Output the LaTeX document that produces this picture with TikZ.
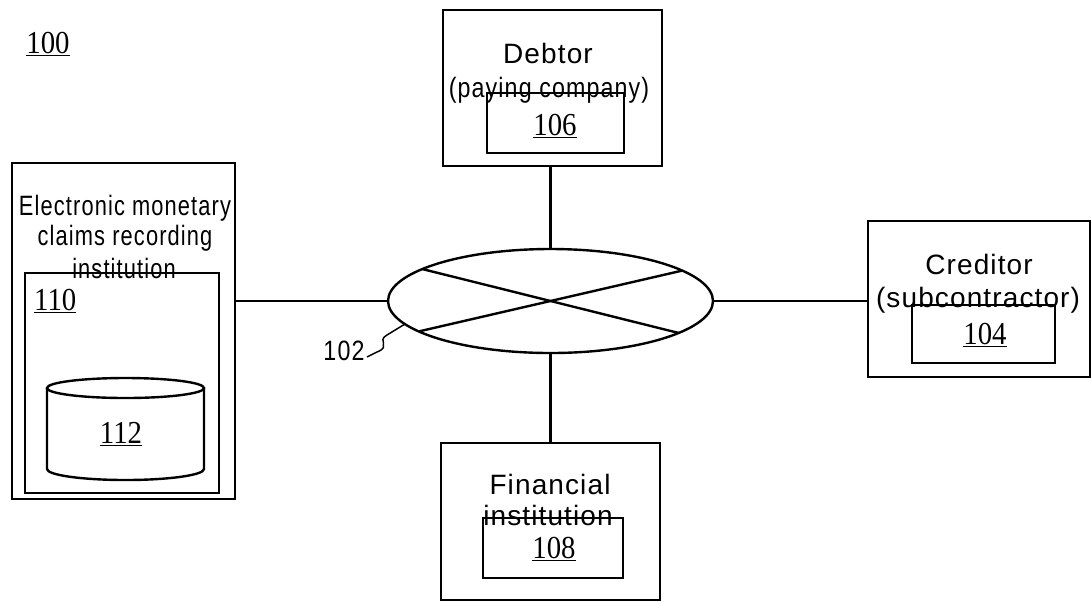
\documentclass[tikz,border=0pt]{standalone}
\usepackage{fontspec}
\usetikzlibrary{shapes.geometric}
\newfontfamily\labelsans[LetterSpace=4]{Liberation Sans}
\newfontfamily\narrowsans[LetterSpace=4,FakeStretch=0.78]{Liberation Sans}
\newfontfamily\semisans[LetterSpace=4,FakeStretch=0.83]{Liberation Sans}
\newfontfamily\refserif[FakeStretch=0.9]{Liberation Serif}
\newdimen\pxu \pxu=0.75pt
\begin{document}
\begin{tikzpicture}[x=0.75pt,y=-0.75pt,line width=1.8pt,
  box/.style n args={4}{draw,rectangle,inner sep=0pt,outer sep=0pt,anchor=north west,
    at={(#1,#2)},minimum width={(#3-#1)*\pxu},minimum height={(#4-#2)*\pxu}},
  txt/.style={inner sep=0pt,anchor=base,font=\labelsans\fontsize{21pt}{25pt}\selectfont},
  ntxt/.style={inner sep=0pt,anchor=base,font=\narrowsans\fontsize{21pt}{25pt}\selectfont},
  stxt/.style={inner sep=0pt,anchor=base,font=\semisans\fontsize{21pt}{25pt}\selectfont},
  ref/.style={inner sep=0pt,anchor=base,font=\refserif\fontsize{24pt}{28pt}\selectfont},
  link/.style={draw,line width=1.8pt},
  leader/.style={draw,line width=1.1pt}]
\useasboundingbox (0,0) rectangle (1091,601);

% system reference
\node[ref] (r100) at (48,53) {\underline{100}};

% network
\node[draw,ellipse,inner sep=0pt,outer sep=0pt,minimum width=325*\pxu,minimum height=104*\pxu]
  (net) at (550.5,301) {};
\draw[link] (net.166.6) -- (net.346.6);
\draw[link] (net.193.4) -- (net.13.4);
\node[stxt] (r102) at (344,360) {102};
\coordinate (lead102) at (367,357);
\draw[leader] (lead102) -- (377,352) .. controls (392,346) and (376,341) .. (387,335) -- (net.189);

% electronic monetary claims recording institution
\node[box={12}{163}{235}{499}] (emcri) {};
\node[box={25}{273}{219}{493}] (server) {};
\node[ntxt] (emcri1) at (125,215) {Electronic monetary};
\node[ntxt] (emcri2) at (125,245) {claims recording};
\node[ntxt] (emcri3) at (124,278) {institution};
\node[ref,anchor=base west] (r110) at (33,310) {\underline{110}};
% database 112
\draw (47,388) -- (47,469) arc[start angle=180,end angle=0,x radius=78.5,y radius=11] -- (204,388);
\draw (125.5,388) ellipse[x radius=78.5,y radius=10];
\node[ref] (r112) at (121,443) {\underline{112}};

% debtor
\node[box={443}{10}{662}{166}] (debtor) {};
\node[box={487}{93}{624}{153}] (dterm) {};
\node[txt] (debtor1) at (548,63) {Debtor};
\node[stxt] (debtor2) at (549,97) {(paying company)};
\node[ref] (r106) at (555,135) {\underline{106}};

% creditor
\node[box={868}{221}{1090}{377}] (creditor) {};
\node[box={912}{305}{1055}{363}] (cterm) {};
\node[txt] (creditor1) at (979,274) {Creditor};
\node[txt] (creditor2) at (978,307) {(subcontractor)};
\node[ref] (r104) at (985,344) {\underline{104}};

% financial institution
\node[box={441}{443}{660}{600}] (fin) {};
\node[box={483}{518}{623}{578}] (fterm) {};
\node[txt] (fin1) at (550,494) {Financial};
\node[txt] (fin2) at (548,525) {institution};
\node[ref] (r108) at (554,558) {\underline{108}};

% connections to the network
\draw[link] (net.west) -- (net.west -| emcri.east);
\draw[link] (net.east) -- (net.east -| creditor.west);
\draw[link] (net.north) -- (net.north |- debtor.south);
\draw[link] (net.south) -- (net.south |- fin.north);
\end{tikzpicture}
\end{document}
